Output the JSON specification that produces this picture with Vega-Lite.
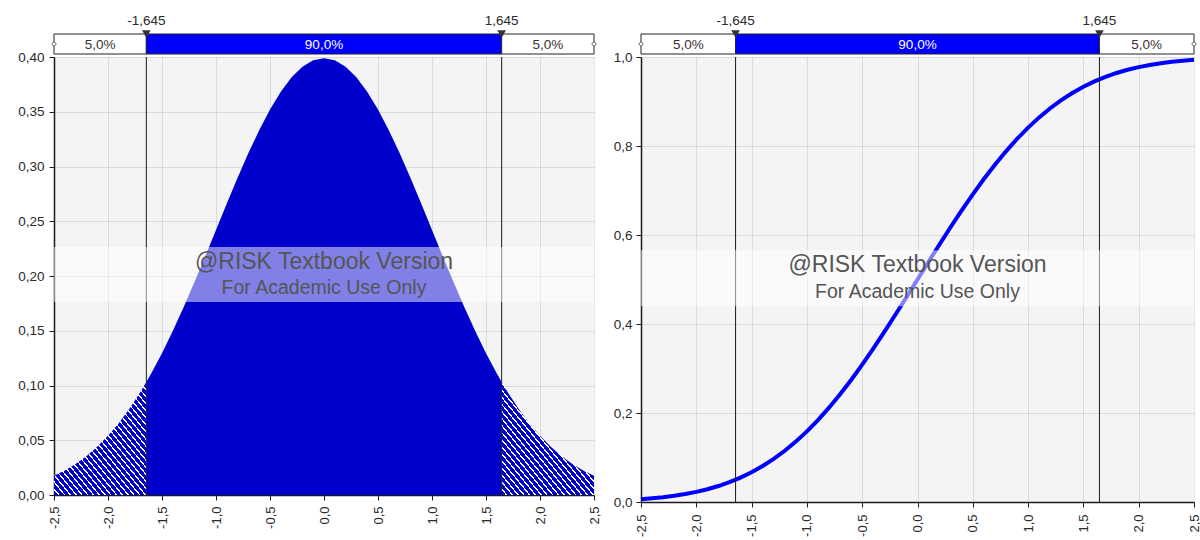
{
  "$schema": "https://vega.github.io/schema/vega-lite/v6.json",
  "background": "white",
  "padding": {"left": 17, "top": 14, "right": 0, "bottom": 0},
  "spacing": 12,
  "config": {
    "font": "Liberation Sans",
    "view": {"fill": "#f4f4f4", "stroke": null},
    "axis": {"labelFont": "Liberation Sans", "labelFontSize": 13.5, "labelColor": "#2a2a2a", "domainColor": "#1a1a1a", "domainWidth": 1.5, "tickColor": "#1a1a1a", "tickSize": 5, "tickWidth": 1, "gridColor": "#000000", "gridOpacity": 0.1, "labelPadding": 5, "zindex": 1}
  },
  "datasets": {
    "pdf": [
      {"x": -2.5, "pdf": 0.0175, "seg": "L"}, {"x": -2.4, "pdf": 0.0224, "seg": "L"}, {"x": -2.3, "pdf": 0.0283, "seg": "L"}, {"x": -2.2, "pdf": 0.0355, "seg": "L"}, {"x": -2.1, "pdf": 0.0440, "seg": "L"}, {"x": -2.0, "pdf": 0.0540, "seg": "L"}, {"x": -1.9, "pdf": 0.0656, "seg": "L"}, {"x": -1.8, "pdf": 0.0790, "seg": "L"}, {"x": -1.7, "pdf": 0.0940, "seg": "L"}, {"x": -1.645, "pdf": 0.1031, "seg": "L"},
      {"x": -1.645, "pdf": 0.1031, "seg": "M"}, {"x": -1.6, "pdf": 0.1109, "seg": "M"}, {"x": -1.5, "pdf": 0.1295, "seg": "M"}, {"x": -1.4, "pdf": 0.1497, "seg": "M"}, {"x": -1.3, "pdf": 0.1714, "seg": "M"}, {"x": -1.2, "pdf": 0.1942, "seg": "M"}, {"x": -1.1, "pdf": 0.2179, "seg": "M"}, {"x": -1.0, "pdf": 0.2420, "seg": "M"}, {"x": -0.9, "pdf": 0.2661, "seg": "M"}, {"x": -0.8, "pdf": 0.2897, "seg": "M"}, {"x": -0.7, "pdf": 0.3123, "seg": "M"}, {"x": -0.6, "pdf": 0.3332, "seg": "M"}, {"x": -0.5, "pdf": 0.3521, "seg": "M"}, {"x": -0.4, "pdf": 0.3683, "seg": "M"}, {"x": -0.3, "pdf": 0.3814, "seg": "M"}, {"x": -0.2, "pdf": 0.3910, "seg": "M"}, {"x": -0.1, "pdf": 0.3970, "seg": "M"}, {"x": 0.0, "pdf": 0.3989, "seg": "M"}, {"x": 0.1, "pdf": 0.3970, "seg": "M"}, {"x": 0.2, "pdf": 0.3910, "seg": "M"}, {"x": 0.3, "pdf": 0.3814, "seg": "M"}, {"x": 0.4, "pdf": 0.3683, "seg": "M"}, {"x": 0.5, "pdf": 0.3521, "seg": "M"}, {"x": 0.6, "pdf": 0.3332, "seg": "M"}, {"x": 0.7, "pdf": 0.3123, "seg": "M"}, {"x": 0.8, "pdf": 0.2897, "seg": "M"}, {"x": 0.9, "pdf": 0.2661, "seg": "M"}, {"x": 1.0, "pdf": 0.2420, "seg": "M"}, {"x": 1.1, "pdf": 0.2179, "seg": "M"}, {"x": 1.2, "pdf": 0.1942, "seg": "M"}, {"x": 1.3, "pdf": 0.1714, "seg": "M"}, {"x": 1.4, "pdf": 0.1497, "seg": "M"}, {"x": 1.5, "pdf": 0.1295, "seg": "M"}, {"x": 1.6, "pdf": 0.1109, "seg": "M"}, {"x": 1.645, "pdf": 0.1031, "seg": "M"},
      {"x": 1.645, "pdf": 0.1031, "seg": "R"}, {"x": 1.7, "pdf": 0.0940, "seg": "R"}, {"x": 1.8, "pdf": 0.0790, "seg": "R"}, {"x": 1.9, "pdf": 0.0656, "seg": "R"}, {"x": 2.0, "pdf": 0.0540, "seg": "R"}, {"x": 2.1, "pdf": 0.0440, "seg": "R"}, {"x": 2.2, "pdf": 0.0355, "seg": "R"}, {"x": 2.3, "pdf": 0.0283, "seg": "R"}, {"x": 2.4, "pdf": 0.0224, "seg": "R"}, {"x": 2.5, "pdf": 0.0175, "seg": "R"}
    ],
    "cdf": [
      {"x": -2.5, "p": 0.0062}, {"x": -2.4, "p": 0.0082}, {"x": -2.3, "p": 0.0107}, {"x": -2.2, "p": 0.0139}, {"x": -2.1, "p": 0.0179}, {"x": -2.0, "p": 0.0228}, {"x": -1.9, "p": 0.0287}, {"x": -1.8, "p": 0.0359}, {"x": -1.7, "p": 0.0446}, {"x": -1.6, "p": 0.0548}, {"x": -1.5, "p": 0.0668}, {"x": -1.4, "p": 0.0808}, {"x": -1.3, "p": 0.0968}, {"x": -1.2, "p": 0.1151}, {"x": -1.1, "p": 0.1357}, {"x": -1.0, "p": 0.1587}, {"x": -0.9, "p": 0.1841}, {"x": -0.8, "p": 0.2119}, {"x": -0.7, "p": 0.2420}, {"x": -0.6, "p": 0.2743}, {"x": -0.5, "p": 0.3085}, {"x": -0.4, "p": 0.3446}, {"x": -0.3, "p": 0.3821}, {"x": -0.2, "p": 0.4207}, {"x": -0.1, "p": 0.4602}, {"x": 0.0, "p": 0.5},
      {"x": 0.1, "p": 0.5398}, {"x": 0.2, "p": 0.5793}, {"x": 0.3, "p": 0.6179}, {"x": 0.4, "p": 0.6554}, {"x": 0.5, "p": 0.6915}, {"x": 0.6, "p": 0.7257}, {"x": 0.7, "p": 0.7580}, {"x": 0.8, "p": 0.7881}, {"x": 0.9, "p": 0.8159}, {"x": 1.0, "p": 0.8413}, {"x": 1.1, "p": 0.8643}, {"x": 1.2, "p": 0.8849}, {"x": 1.3, "p": 0.9032}, {"x": 1.4, "p": 0.9192}, {"x": 1.5, "p": 0.9332}, {"x": 1.6, "p": 0.9452}, {"x": 1.7, "p": 0.9554}, {"x": 1.8, "p": 0.9641}, {"x": 1.9, "p": 0.9713}, {"x": 2.0, "p": 0.9772}, {"x": 2.1, "p": 0.9821}, {"x": 2.2, "p": 0.9861}, {"x": 2.3, "p": 0.9893}, {"x": 2.4, "p": 0.9918}, {"x": 2.5, "p": 0.9938}
    ],
    "cuts": [{"q": -1.645, "label": "-1,645"}, {"q": 1.645, "label": "1,645"}],
    "bar": [
      {"x1": -2.5, "x2": -1.645, "pct": "5,0%", "part": "tail"},
      {"x1": -1.645, "x2": 1.645, "pct": "90,0%", "part": "mid"},
      {"x1": 1.645, "x2": 2.5, "pct": "5,0%", "part": "tail"}
    ],
    "ends": [{"e": -2.5}, {"e": 2.5}],
    "wm1": [{"t": "@RISK Textbook Version"}],
    "wm2": [{"t": "For Academic Use Only"}]
  },
  "hconcat": [
    {
      "bounds": "flush",
      "spacing": 3,
      "vconcat": [
        {
          "width": 540, "height": 20,
          "view": {"fill": null, "stroke": null},
          "layer": [
            {"data": {"name": "bar"}, "mark": {"type": "rect", "stroke": "#222222", "strokeWidth": 1},
             "encoding": {
               "x": {"field": "x1", "type": "quantitative", "scale": {"domain": [-2.5, 2.5], "nice": false, "zero": false}, "axis": null},
               "x2": {"field": "x2"},
               "y": {"datum": 0, "type": "quantitative", "scale": {"domain": [0, 1]}, "axis": null},
               "y2": {"datum": 1},
               "fill": {"field": "part", "type": "nominal", "scale": {"domain": ["tail", "mid"], "range": ["#ffffff", "#0000ff"]}, "legend": null}
             }},
            {"data": {"name": "bar"}, "transform": [{"calculate": "(datum.x1 + datum.x2) / 2", "as": "xm"}],
             "mark": {"type": "text", "fontSize": 13.5, "baseline": "middle", "dy": 1},
             "encoding": {
               "x": {"field": "xm", "type": "quantitative"},
               "y": {"datum": 0.5, "type": "quantitative"},
               "text": {"field": "pct"},
               "color": {"condition": {"test": "datum.part == 'mid'", "value": "#ffffff"}, "value": "#3a3030"}
             }},
            {"data": {"name": "cuts"}, "mark": {"type": "point", "shape": "triangle-down", "filled": true, "size": 75, "color": "#333333", "opacity": 1},
             "encoding": {"x": {"field": "q", "type": "quantitative"}, "y": {"datum": 1, "type": "quantitative"}}},
            {"data": {"name": "cuts"}, "mark": {"type": "text", "fontSize": 13.5, "baseline": "alphabetic", "dy": -9, "color": "#2a2a2a"},
             "encoding": {"x": {"field": "q", "type": "quantitative"}, "y": {"datum": 1, "type": "quantitative"}, "text": {"field": "label"}}},
            {"data": {"name": "ends"}, "mark": {"type": "point", "shape": "diamond", "filled": true, "size": 22, "fill": "#ffffff", "stroke": "#555555", "strokeWidth": 1, "opacity": 1},
             "encoding": {"x": {"field": "e", "type": "quantitative"}, "y": {"datum": 0.5, "type": "quantitative"}}}
          ]
        },
        {
          "width": 540, "height": 438,
          "layer": [
            {"data": {"name": "pdf"}, "transform": [{"filter": "datum.seg == 'M'"}],
             "mark": {"type": "area", "color": "#0000cc"},
             "encoding": {
               "x": {"field": "x", "type": "quantitative", "scale": {"domain": [-2.5, 2.5], "nice": false, "zero": false},
                     "axis": {"title": null, "values": [-2.5, -2, -1.5, -1, -0.5, 0, 0.5, 1, 1.5, 2, 2.5], "labelAngle": 270, "labelFontSize": 13, "labelPadding": 6, "labelExpr": "replace(replace(format(datum.value, '.1f'), '.', ','), '\u2212', '-')"}},
               "y": {"field": "pdf", "type": "quantitative", "scale": {"domain": [0, 0.4], "nice": false},
                     "axis": {"title": null, "values": [0, 0.05, 0.1, 0.15, 0.2, 0.25, 0.3, 0.35, 0.4], "labelExpr": "replace(format(datum.value, '.2f'), '.', ',')"}}
             }},
            {"data": {"name": "pdf"}, "transform": [{"filter": "datum.seg == 'L'"}],
             "mark": {"type": "area", "fill": {"gradient": "linear", "x1": 0, "y1": 1, "x2": 1, "y2": 0, "stops": [
               {"offset": 0, "color": "#0000cc"}, {"offset": 0.0225, "color": "#0000cc"}, {"offset": 0.0225, "color": "#ffffff"}, {"offset": 0.03125, "color": "#ffffff"},
               {"offset": 0.03125, "color": "#0000cc"}, {"offset": 0.05375, "color": "#0000cc"}, {"offset": 0.05375, "color": "#ffffff"}, {"offset": 0.0625, "color": "#ffffff"},
               {"offset": 0.0625, "color": "#0000cc"}, {"offset": 0.085, "color": "#0000cc"}, {"offset": 0.085, "color": "#ffffff"}, {"offset": 0.09375, "color": "#ffffff"},
               {"offset": 0.09375, "color": "#0000cc"}, {"offset": 0.11625, "color": "#0000cc"}, {"offset": 0.11625, "color": "#ffffff"}, {"offset": 0.125, "color": "#ffffff"},
               {"offset": 0.125, "color": "#0000cc"}, {"offset": 0.1475, "color": "#0000cc"}, {"offset": 0.1475, "color": "#ffffff"}, {"offset": 0.15625, "color": "#ffffff"},
               {"offset": 0.15625, "color": "#0000cc"}, {"offset": 0.17875, "color": "#0000cc"}, {"offset": 0.17875, "color": "#ffffff"}, {"offset": 0.1875, "color": "#ffffff"},
               {"offset": 0.1875, "color": "#0000cc"}, {"offset": 0.21, "color": "#0000cc"}, {"offset": 0.21, "color": "#ffffff"}, {"offset": 0.21875, "color": "#ffffff"},
               {"offset": 0.21875, "color": "#0000cc"}, {"offset": 0.24125, "color": "#0000cc"}, {"offset": 0.24125, "color": "#ffffff"}, {"offset": 0.25, "color": "#ffffff"},
               {"offset": 0.25, "color": "#0000cc"}, {"offset": 0.2725, "color": "#0000cc"}, {"offset": 0.2725, "color": "#ffffff"}, {"offset": 0.28125, "color": "#ffffff"},
               {"offset": 0.28125, "color": "#0000cc"}, {"offset": 0.30375, "color": "#0000cc"}, {"offset": 0.30375, "color": "#ffffff"}, {"offset": 0.3125, "color": "#ffffff"},
               {"offset": 0.3125, "color": "#0000cc"}, {"offset": 0.335, "color": "#0000cc"}, {"offset": 0.335, "color": "#ffffff"}, {"offset": 0.34375, "color": "#ffffff"},
               {"offset": 0.34375, "color": "#0000cc"}, {"offset": 0.36625, "color": "#0000cc"}, {"offset": 0.36625, "color": "#ffffff"}, {"offset": 0.375, "color": "#ffffff"},
               {"offset": 0.375, "color": "#0000cc"}, {"offset": 0.3975, "color": "#0000cc"}, {"offset": 0.3975, "color": "#ffffff"}, {"offset": 0.40625, "color": "#ffffff"},
               {"offset": 0.40625, "color": "#0000cc"}, {"offset": 0.42875, "color": "#0000cc"}, {"offset": 0.42875, "color": "#ffffff"}, {"offset": 0.4375, "color": "#ffffff"},
               {"offset": 0.4375, "color": "#0000cc"}, {"offset": 0.46, "color": "#0000cc"}, {"offset": 0.46, "color": "#ffffff"}, {"offset": 0.46875, "color": "#ffffff"},
               {"offset": 0.46875, "color": "#0000cc"}, {"offset": 0.49125, "color": "#0000cc"}, {"offset": 0.49125, "color": "#ffffff"}, {"offset": 0.5, "color": "#ffffff"},
               {"offset": 0.5, "color": "#0000cc"}, {"offset": 0.5225, "color": "#0000cc"}, {"offset": 0.5225, "color": "#ffffff"}, {"offset": 0.53125, "color": "#ffffff"},
               {"offset": 0.53125, "color": "#0000cc"}, {"offset": 0.55375, "color": "#0000cc"}, {"offset": 0.55375, "color": "#ffffff"}, {"offset": 0.5625, "color": "#ffffff"},
               {"offset": 0.5625, "color": "#0000cc"}, {"offset": 0.585, "color": "#0000cc"}, {"offset": 0.585, "color": "#ffffff"}, {"offset": 0.59375, "color": "#ffffff"},
               {"offset": 0.59375, "color": "#0000cc"}, {"offset": 0.61625, "color": "#0000cc"}, {"offset": 0.61625, "color": "#ffffff"}, {"offset": 0.625, "color": "#ffffff"},
               {"offset": 0.625, "color": "#0000cc"}, {"offset": 0.6475, "color": "#0000cc"}, {"offset": 0.6475, "color": "#ffffff"}, {"offset": 0.65625, "color": "#ffffff"},
               {"offset": 0.65625, "color": "#0000cc"}, {"offset": 0.67875, "color": "#0000cc"}, {"offset": 0.67875, "color": "#ffffff"}, {"offset": 0.6875, "color": "#ffffff"},
               {"offset": 0.6875, "color": "#0000cc"}, {"offset": 0.71, "color": "#0000cc"}, {"offset": 0.71, "color": "#ffffff"}, {"offset": 0.71875, "color": "#ffffff"},
               {"offset": 0.71875, "color": "#0000cc"}, {"offset": 0.74125, "color": "#0000cc"}, {"offset": 0.74125, "color": "#ffffff"}, {"offset": 0.75, "color": "#ffffff"},
               {"offset": 0.75, "color": "#0000cc"}, {"offset": 0.7725, "color": "#0000cc"}, {"offset": 0.7725, "color": "#ffffff"}, {"offset": 0.78125, "color": "#ffffff"},
               {"offset": 0.78125, "color": "#0000cc"}, {"offset": 0.80375, "color": "#0000cc"}, {"offset": 0.80375, "color": "#ffffff"}, {"offset": 0.8125, "color": "#ffffff"},
               {"offset": 0.8125, "color": "#0000cc"}, {"offset": 0.835, "color": "#0000cc"}, {"offset": 0.835, "color": "#ffffff"}, {"offset": 0.84375, "color": "#ffffff"},
               {"offset": 0.84375, "color": "#0000cc"}, {"offset": 0.86625, "color": "#0000cc"}, {"offset": 0.86625, "color": "#ffffff"}, {"offset": 0.875, "color": "#ffffff"},
               {"offset": 0.875, "color": "#0000cc"}, {"offset": 0.8975, "color": "#0000cc"}, {"offset": 0.8975, "color": "#ffffff"}, {"offset": 0.90625, "color": "#ffffff"},
               {"offset": 0.90625, "color": "#0000cc"}, {"offset": 0.92875, "color": "#0000cc"}, {"offset": 0.92875, "color": "#ffffff"}, {"offset": 0.9375, "color": "#ffffff"},
               {"offset": 0.9375, "color": "#0000cc"}, {"offset": 0.96, "color": "#0000cc"}, {"offset": 0.96, "color": "#ffffff"}, {"offset": 0.96875, "color": "#ffffff"},
               {"offset": 0.96875, "color": "#0000cc"}, {"offset": 0.99125, "color": "#0000cc"}, {"offset": 0.99125, "color": "#ffffff"}, {"offset": 1, "color": "#ffffff"}
             ]}},
             "encoding": {
               "x": {"field": "x", "type": "quantitative"},
               "y": {"field": "pdf", "type": "quantitative"}
             }},
            {"data": {"name": "pdf"}, "transform": [{"filter": "datum.seg == 'R'"}],
             "mark": {"type": "area", "fill": {"gradient": "linear", "x1": 0, "y1": 1, "x2": 1, "y2": 0, "stops": [
               {"offset": 0, "color": "#0000cc"}, {"offset": 0.0225, "color": "#0000cc"}, {"offset": 0.0225, "color": "#ffffff"}, {"offset": 0.03125, "color": "#ffffff"},
               {"offset": 0.03125, "color": "#0000cc"}, {"offset": 0.05375, "color": "#0000cc"}, {"offset": 0.05375, "color": "#ffffff"}, {"offset": 0.0625, "color": "#ffffff"},
               {"offset": 0.0625, "color": "#0000cc"}, {"offset": 0.085, "color": "#0000cc"}, {"offset": 0.085, "color": "#ffffff"}, {"offset": 0.09375, "color": "#ffffff"},
               {"offset": 0.09375, "color": "#0000cc"}, {"offset": 0.11625, "color": "#0000cc"}, {"offset": 0.11625, "color": "#ffffff"}, {"offset": 0.125, "color": "#ffffff"},
               {"offset": 0.125, "color": "#0000cc"}, {"offset": 0.1475, "color": "#0000cc"}, {"offset": 0.1475, "color": "#ffffff"}, {"offset": 0.15625, "color": "#ffffff"},
               {"offset": 0.15625, "color": "#0000cc"}, {"offset": 0.17875, "color": "#0000cc"}, {"offset": 0.17875, "color": "#ffffff"}, {"offset": 0.1875, "color": "#ffffff"},
               {"offset": 0.1875, "color": "#0000cc"}, {"offset": 0.21, "color": "#0000cc"}, {"offset": 0.21, "color": "#ffffff"}, {"offset": 0.21875, "color": "#ffffff"},
               {"offset": 0.21875, "color": "#0000cc"}, {"offset": 0.24125, "color": "#0000cc"}, {"offset": 0.24125, "color": "#ffffff"}, {"offset": 0.25, "color": "#ffffff"},
               {"offset": 0.25, "color": "#0000cc"}, {"offset": 0.2725, "color": "#0000cc"}, {"offset": 0.2725, "color": "#ffffff"}, {"offset": 0.28125, "color": "#ffffff"},
               {"offset": 0.28125, "color": "#0000cc"}, {"offset": 0.30375, "color": "#0000cc"}, {"offset": 0.30375, "color": "#ffffff"}, {"offset": 0.3125, "color": "#ffffff"},
               {"offset": 0.3125, "color": "#0000cc"}, {"offset": 0.335, "color": "#0000cc"}, {"offset": 0.335, "color": "#ffffff"}, {"offset": 0.34375, "color": "#ffffff"},
               {"offset": 0.34375, "color": "#0000cc"}, {"offset": 0.36625, "color": "#0000cc"}, {"offset": 0.36625, "color": "#ffffff"}, {"offset": 0.375, "color": "#ffffff"},
               {"offset": 0.375, "color": "#0000cc"}, {"offset": 0.3975, "color": "#0000cc"}, {"offset": 0.3975, "color": "#ffffff"}, {"offset": 0.40625, "color": "#ffffff"},
               {"offset": 0.40625, "color": "#0000cc"}, {"offset": 0.42875, "color": "#0000cc"}, {"offset": 0.42875, "color": "#ffffff"}, {"offset": 0.4375, "color": "#ffffff"},
               {"offset": 0.4375, "color": "#0000cc"}, {"offset": 0.46, "color": "#0000cc"}, {"offset": 0.46, "color": "#ffffff"}, {"offset": 0.46875, "color": "#ffffff"},
               {"offset": 0.46875, "color": "#0000cc"}, {"offset": 0.49125, "color": "#0000cc"}, {"offset": 0.49125, "color": "#ffffff"}, {"offset": 0.5, "color": "#ffffff"},
               {"offset": 0.5, "color": "#0000cc"}, {"offset": 0.5225, "color": "#0000cc"}, {"offset": 0.5225, "color": "#ffffff"}, {"offset": 0.53125, "color": "#ffffff"},
               {"offset": 0.53125, "color": "#0000cc"}, {"offset": 0.55375, "color": "#0000cc"}, {"offset": 0.55375, "color": "#ffffff"}, {"offset": 0.5625, "color": "#ffffff"},
               {"offset": 0.5625, "color": "#0000cc"}, {"offset": 0.585, "color": "#0000cc"}, {"offset": 0.585, "color": "#ffffff"}, {"offset": 0.59375, "color": "#ffffff"},
               {"offset": 0.59375, "color": "#0000cc"}, {"offset": 0.61625, "color": "#0000cc"}, {"offset": 0.61625, "color": "#ffffff"}, {"offset": 0.625, "color": "#ffffff"},
               {"offset": 0.625, "color": "#0000cc"}, {"offset": 0.6475, "color": "#0000cc"}, {"offset": 0.6475, "color": "#ffffff"}, {"offset": 0.65625, "color": "#ffffff"},
               {"offset": 0.65625, "color": "#0000cc"}, {"offset": 0.67875, "color": "#0000cc"}, {"offset": 0.67875, "color": "#ffffff"}, {"offset": 0.6875, "color": "#ffffff"},
               {"offset": 0.6875, "color": "#0000cc"}, {"offset": 0.71, "color": "#0000cc"}, {"offset": 0.71, "color": "#ffffff"}, {"offset": 0.71875, "color": "#ffffff"},
               {"offset": 0.71875, "color": "#0000cc"}, {"offset": 0.74125, "color": "#0000cc"}, {"offset": 0.74125, "color": "#ffffff"}, {"offset": 0.75, "color": "#ffffff"},
               {"offset": 0.75, "color": "#0000cc"}, {"offset": 0.7725, "color": "#0000cc"}, {"offset": 0.7725, "color": "#ffffff"}, {"offset": 0.78125, "color": "#ffffff"},
               {"offset": 0.78125, "color": "#0000cc"}, {"offset": 0.80375, "color": "#0000cc"}, {"offset": 0.80375, "color": "#ffffff"}, {"offset": 0.8125, "color": "#ffffff"},
               {"offset": 0.8125, "color": "#0000cc"}, {"offset": 0.835, "color": "#0000cc"}, {"offset": 0.835, "color": "#ffffff"}, {"offset": 0.84375, "color": "#ffffff"},
               {"offset": 0.84375, "color": "#0000cc"}, {"offset": 0.86625, "color": "#0000cc"}, {"offset": 0.86625, "color": "#ffffff"}, {"offset": 0.875, "color": "#ffffff"},
               {"offset": 0.875, "color": "#0000cc"}, {"offset": 0.8975, "color": "#0000cc"}, {"offset": 0.8975, "color": "#ffffff"}, {"offset": 0.90625, "color": "#ffffff"},
               {"offset": 0.90625, "color": "#0000cc"}, {"offset": 0.92875, "color": "#0000cc"}, {"offset": 0.92875, "color": "#ffffff"}, {"offset": 0.9375, "color": "#ffffff"},
               {"offset": 0.9375, "color": "#0000cc"}, {"offset": 0.96, "color": "#0000cc"}, {"offset": 0.96, "color": "#ffffff"}, {"offset": 0.96875, "color": "#ffffff"},
               {"offset": 0.96875, "color": "#0000cc"}, {"offset": 0.99125, "color": "#0000cc"}, {"offset": 0.99125, "color": "#ffffff"}, {"offset": 1, "color": "#ffffff"}
             ]}},
             "encoding": {
               "x": {"field": "x", "type": "quantitative"},
               "y": {"field": "pdf", "type": "quantitative"}
             }},
            {"data": {"name": "cuts"}, "mark": {"type": "rule", "color": "#1a1a1a", "strokeWidth": 1},
             "encoding": {"x": {"field": "q", "type": "quantitative"}}},
            {"data": {"name": "wm1"}, "mark": {"type": "rect", "fill": "#ffffff", "opacity": 0.5},
             "encoding": {"x": {"datum": -2.5, "type": "quantitative"}, "x2": {"datum": 2.5}, "y": {"datum": 0.1763, "type": "quantitative"}, "y2": {"datum": 0.2265}}},
            {"data": {"name": "wm1"}, "mark": {"type": "text", "fontSize": 23, "baseline": "middle", "color": "#555555"},
             "encoding": {"x": {"datum": 0, "type": "quantitative"}, "y": {"datum": 0.2128, "type": "quantitative"}, "text": {"field": "t"}}},
            {"data": {"name": "wm2"}, "mark": {"type": "text", "fontSize": 19.5, "baseline": "middle", "color": "#555555"},
             "encoding": {"x": {"datum": 0, "type": "quantitative"}, "y": {"datum": 0.189, "type": "quantitative"}, "text": {"field": "t"}}}
          ]
        }
      ]
    },
    {
      "bounds": "flush",
      "spacing": 3,
      "vconcat": [
        {
          "width": 553, "height": 20,
          "view": {"fill": null, "stroke": null},
          "layer": [
            {"data": {"name": "bar"}, "mark": {"type": "rect", "stroke": "#222222", "strokeWidth": 1},
             "encoding": {
               "x": {"field": "x1", "type": "quantitative", "scale": {"domain": [-2.5, 2.5], "nice": false, "zero": false}, "axis": null},
               "x2": {"field": "x2"},
               "y": {"datum": 0, "type": "quantitative", "scale": {"domain": [0, 1]}, "axis": null},
               "y2": {"datum": 1},
               "fill": {"field": "part", "type": "nominal", "scale": {"domain": ["tail", "mid"], "range": ["#ffffff", "#0000ff"]}, "legend": null}
             }},
            {"data": {"name": "bar"}, "transform": [{"calculate": "(datum.x1 + datum.x2) / 2", "as": "xm"}],
             "mark": {"type": "text", "fontSize": 13.5, "baseline": "middle", "dy": 1},
             "encoding": {
               "x": {"field": "xm", "type": "quantitative"},
               "y": {"datum": 0.5, "type": "quantitative"},
               "text": {"field": "pct"},
               "color": {"condition": {"test": "datum.part == 'mid'", "value": "#ffffff"}, "value": "#3a3030"}
             }},
            {"data": {"name": "cuts"}, "mark": {"type": "point", "shape": "triangle-down", "filled": true, "size": 75, "color": "#333333", "opacity": 1},
             "encoding": {"x": {"field": "q", "type": "quantitative"}, "y": {"datum": 1, "type": "quantitative"}}},
            {"data": {"name": "cuts"}, "mark": {"type": "text", "fontSize": 13.5, "baseline": "alphabetic", "dy": -9, "color": "#2a2a2a"},
             "encoding": {"x": {"field": "q", "type": "quantitative"}, "y": {"datum": 1, "type": "quantitative"}, "text": {"field": "label"}}},
            {"data": {"name": "ends"}, "mark": {"type": "point", "shape": "diamond", "filled": true, "size": 22, "fill": "#ffffff", "stroke": "#555555", "strokeWidth": 1, "opacity": 1},
             "encoding": {"x": {"field": "e", "type": "quantitative"}, "y": {"datum": 0.5, "type": "quantitative"}}}
          ]
        },
        {
          "width": 553, "height": 445,
          "layer": [
            {"data": {"name": "cdf"},
             "mark": {"type": "line", "color": "#0000ff", "strokeWidth": 4},
             "encoding": {
               "x": {"field": "x", "type": "quantitative", "scale": {"domain": [-2.5, 2.5], "nice": false, "zero": false},
                     "axis": {"title": null, "values": [-2.5, -2, -1.5, -1, -0.5, 0, 0.5, 1, 1.5, 2, 2.5], "labelAngle": 270, "labelFontSize": 13, "labelPadding": 7, "labelExpr": "replace(replace(format(datum.value, '.1f'), '.', ','), '\u2212', '-')"}},
               "y": {"field": "p", "type": "quantitative", "scale": {"domain": [0, 1], "nice": false},
                     "axis": {"title": null, "values": [0, 0.2, 0.4, 0.6, 0.8, 1], "labelPadding": 4, "labelExpr": "replace(format(datum.value, '.1f'), '.', ',')"}}
             }},
            {"data": {"name": "cuts"}, "mark": {"type": "rule", "color": "#1a1a1a", "strokeWidth": 1},
             "encoding": {"x": {"field": "q", "type": "quantitative"}}},
            {"data": {"name": "wm1"}, "mark": {"type": "rect", "fill": "#ffffff", "opacity": 0.5},
             "encoding": {"x": {"datum": -2.5, "type": "quantitative"}, "x2": {"datum": 2.5}, "y": {"datum": 0.44, "type": "quantitative"}, "y2": {"datum": 0.566}}},
            {"data": {"name": "wm1"}, "mark": {"type": "text", "fontSize": 23, "baseline": "middle", "color": "#555555"},
             "encoding": {"x": {"datum": 0, "type": "quantitative"}, "y": {"datum": 0.533, "type": "quantitative"}, "text": {"field": "t"}}},
            {"data": {"name": "wm2"}, "mark": {"type": "text", "fontSize": 19.5, "baseline": "middle", "color": "#555555"},
             "encoding": {"x": {"datum": 0, "type": "quantitative"}, "y": {"datum": 0.472, "type": "quantitative"}, "text": {"field": "t"}}}
          ]
        }
      ]
    }
  ]
}
